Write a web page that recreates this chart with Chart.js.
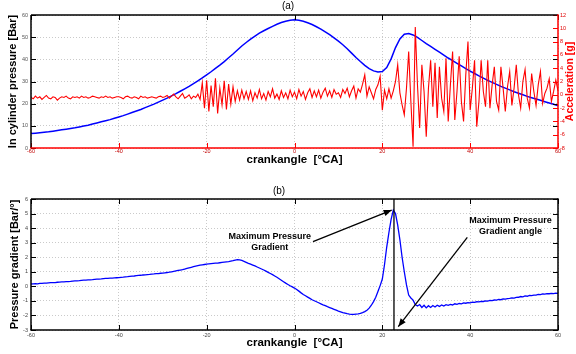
<!DOCTYPE html>
<html><head><meta charset="utf-8">
<script src="https://cdn.jsdelivr.net/npm/chart.js@4/dist/chart.umd.min.js"></script>
<style>
html,body{margin:0;padding:0;background:#fff;}
#wrap{position:relative;width:576px;height:354px;background:#fff;}
canvas{display:block;}
</style></head><body>
<div id="wrap"><canvas id="c1" width="576" height="177"></canvas><canvas id="c2" width="576" height="177"></canvas></div>
<script>
// ---------- DATA ----------
const crankAngle = [
 -60,-59.5,-59,-58.5,-58,-57.5,-57,-56.5,-56,-55.5,-55,-54.5,-54,-53.5,-53,-52.5,-52,-51.5,-51,-50.5,
 -50,-49.5,-49,-48.5,-48,-47.5,-47,-46.5,-46,-45.5,-45,-44.5,-44,-43.5,-43,-42.5,-42,-41.5,-41,-40.5,
 -40,-39.5,-39,-38.5,-38,-37.5,-37,-36.5,-36,-35.5,-35,-34.5,-34,-33.5,-33,-32.5,-32,-31.5,-31,-30.5,
 -30,-29.5,-29,-28.5,-28,-27.5,-27,-26.5,-26,-25.5,-25,-24.5,-24,-23.5,-23,-22.5,-22,-21.5,-21,-20.5,
 -20,-19.5,-19,-18.5,-18,-17.5,-17,-16.5,-16,-15.5,-15,-14.5,-14,-13.5,-13,-12.5,-12,-11.5,-11,-10.5,
 -10,-9.5,-9,-8.5,-8,-7.5,-7,-6.5,-6,-5.5,-5,-4.5,-4,-3.5,-3,-2.5,-2,-1.5,-1,-0.5,
 0,0.5,1,1.5,2,2.5,3,3.5,4,4.5,5,5.5,6,6.5,7,7.5,8,8.5,9,9.5,
 10,10.5,11,11.5,12,12.5,13,13.5,14,14.5,15,15.5,16,16.5,17,17.5,18,18.5,19,19.5,
 20,20.5,21,21.5,22,22.5,23,23.5,24,24.5,25,25.5,26,26.5,27,27.5,28,28.5,29,29.5,
 30,30.5,31,31.5,32,32.5,33,33.5,34,34.5,35,35.5,36,36.5,37,37.5,38,38.5,39,39.5,
 40,40.5,41,41.5,42,42.5,43,43.5,44,44.5,45,45.5,46,46.5,47,47.5,48,48.5,49,49.5,
 50,50.5,51,51.5,52,52.5,53,53.5,54,54.5,55,55.5,56,56.5,57,57.5,58,58.5,59,59.5,
 60];

const crankAngleDeg = [
 -60,-59,-58,-57,-56,-55,-54,-53,-52,-51,
 -50,-49,-48,-47,-46,-45,-44,-43,-42,-41,
 -40,-39,-38,-37,-36,-35,-34,-33,-32,-31,
 -30,-29,-28,-27,-26,-25,-24,-23,-22,-21,
 -20,-19,-18,-17,-16,-15,-14,-13,-12,-11,
 -10,-9,-8,-7,-6,-5,-4,-3,-2,-1,
 0,1,2,3,4,5,6,7,8,9,
 10,11,12,13,14,15,16,17,18,19,
 20,21,22,23,24,25,26,27,28,29,
 30,31,32,33,34,35,36,37,38,39,
 40,41,42,43,44,45,46,47,48,49,
 50,51,52,53,54,55,56,57,58,59,
 60];

// In-cylinder pressure [Bar] (1 deg steps)
const cylinderPressure = [
 6.5,6.7,6.9,7.1,7.3,7.6,7.9,8.2,8.5,8.8,
 9.1,9.5,9.9,10.3,10.8,11.3,11.8,12.3,12.8,13.4,
 14.0,14.6,15.3,16.0,16.7,17.4,18.2,19.0,19.8,20.7,
 21.6,22.5,23.5,24.5,25.6,26.7,27.8,29.0,30.3,31.6,
 33.0,34.4,35.9,37.4,39.0,40.7,42.4,44.2,46.0,47.6,
 49.1,50.5,51.8,52.9,53.9,54.9,55.8,56.6,57.2,57.6,
 57.8,57.6,57.2,56.5,55.7,54.7,53.6,52.4,51.1,49.7,
 48.2,46.6,44.8,42.8,40.8,39.0,37.3,35.8,34.8,34.3,
 34.5,36.3,40.2,45.3,49.2,51.3,51.6,51.0,49.9,48.5,
 47.1,45.8,44.5,43.2,41.9,40.6,39.4,38.2,37.0,35.8,
 34.7,33.6,32.5,31.5,30.5,29.6,28.7,27.8,27.0,26.2,
 25.4,24.7,24.0,23.3,22.7,22.1,21.5,20.9,20.3,19.7,
 19.1];

// Acceleration [g] (0.5 deg steps)
const acceleration = [
 -0.4,-0.6,-0.2,-0.5,-0.3,-0.7,-0.4,-0.1,-0.5,-0.6,-0.3,-0.4,-0.8,-0.5,-0.3,-0.4,-0.2,-0.5,-0.6,-0.3,
 -0.4,-0.3,-0.5,-0.2,-0.4,-0.3,-0.5,-0.4,-0.2,-0.3,-0.4,-0.5,-0.3,-0.4,-0.2,-0.4,-0.3,-0.5,-0.4,-0.3,
 -0.3,-0.4,-0.6,-0.3,-0.2,-0.4,-0.5,-0.3,-0.4,-0.6,-0.2,-0.4,-0.3,-0.5,-0.4,-0.3,-0.4,-0.5,-0.3,-0.2,
 -0.4,-0.3,-0.1,-0.5,-0.2,0.1,-0.3,-0.6,-0.2,0.2,-0.5,-0.3,0.0,-0.6,-0.2,-0.4,0.1,-0.7,1.8,-2.0,
 2.2,-2.5,1.4,-1.8,2.5,-2.8,1.0,-1.5,2.1,-2.2,1.6,-1.4,1.2,-1.0,0.6,-0.8,0.7,-0.6,0.5,-0.7,
 0.6,-0.9,0.3,-0.5,0.8,-0.6,0.2,-0.8,0.5,-0.3,0.9,-0.5,0.1,-0.7,0.6,-0.4,0.3,-0.6,0.7,-0.3,
 0.4,-0.6,0.8,-0.2,0.5,-0.7,0.3,0.9,-0.4,0.6,-0.3,0.7,-0.5,0.4,1.0,-0.2,0.6,-0.4,0.8,0.1,
 0.3,-0.4,0.8,0.2,1.0,-0.3,0.6,1.3,-0.5,0.9,0.4,1.6,3.0,-0.2,1.2,0.3,-0.6,0.8,1.5,2.8,
 -2.3,0.7,-0.6,0.9,-0.5,0.6,2.0,4.5,0.3,-1.5,-3.0,1.0,6.5,-1.0,-7.8,10.2,1.5,-5.0,4.5,0.5,
 -6.3,1.0,5.2,-1.8,4.8,-3.5,4.2,-0.5,-2.5,5.5,-4.0,1.5,6.5,-3.8,0.5,5.8,-1.0,-4.0,3.0,8.0,
 -2.3,1.0,5.2,-4.8,-1.0,5.2,0.5,-1.8,5.2,-2.0,1.5,4.2,-1.0,-2.3,4.2,1.0,-2.5,1.2,3.5,-1.6,
 1.0,4.5,0.0,-2.0,2.0,3.8,-0.5,-2.0,3.2,0.5,-1.6,1.5,3.5,-1.3,0.2,1.0,2.4,-1.0,0.5,2.2,
 0.6];

// Pressure gradient [Bar/deg] (0.5 deg steps)
const pressureGradient = [
 0.16,0.17,0.18,0.17,0.2,0.21,0.22,0.22,0.24,0.25,0.25,0.26,0.28,0.29,0.3,0.31,0.32,0.33,0.34,0.36,
 0.37,0.38,0.39,0.41,0.42,0.43,0.44,0.45,0.46,0.48,0.49,0.5,0.51,0.53,0.54,0.55,0.56,0.57,0.58,0.59,
 0.6,0.62,0.63,0.65,0.66,0.68,0.7,0.71,0.73,0.75,0.76,0.78,0.79,0.81,0.82,0.84,0.85,0.87,0.88,0.9,
 0.91,0.93,0.95,0.97,1.0,1.03,1.06,1.09,1.12,1.15,1.19,1.23,1.27,1.31,1.35,1.39,1.42,1.45,1.48,1.5,
 1.52,1.54,1.56,1.58,1.59,1.6,1.62,1.64,1.66,1.68,1.7,1.73,1.76,1.8,1.84,1.82,1.78,1.72,1.65,1.58,
 1.52,1.46,1.4,1.33,1.26,1.19,1.12,1.04,0.96,0.88,0.8,0.71,0.62,0.52,0.42,0.32,0.22,0.13,0.04,-0.04,
 -0.12,-0.22,-0.33,-0.45,-0.56,-0.65,-0.74,-0.83,-0.92,-0.99,-1.06,-1.13,-1.2,-1.27,-1.33,-1.4,-1.46,-1.52,-1.58,-1.64,
 -1.7,-1.75,-1.8,-1.84,-1.88,-1.91,-1.93,-1.93,-1.91,-1.89,-1.86,-1.81,-1.74,-1.64,-1.5,-1.3,-1.05,-0.75,-0.35,0.05,
 0.5,1.5,2.7,3.7,4.6,5.24,5.0,4.2,3.2,2.0,1.0,0.1,-0.6,-0.8,-0.95,-1.25,-1.35,-1.25,-1.45,-1.3,
 -1.48,-1.33,-1.45,-1.32,-1.42,-1.3,-1.38,-1.28,-1.35,-1.26,-1.3,-1.24,-1.28,-1.2,-1.24,-1.18,-1.2,-1.14,-1.16,-1.12,
 -1.13,-1.09,-1.1,-1.06,-1.07,-1.03,-1.04,-1.0,-1.01,-0.97,-0.98,-0.94,-0.95,-0.9,-0.92,-0.86,-0.88,-0.84,-0.83,-0.8,
 -0.81,-0.76,-0.75,-0.7,-0.72,-0.66,-0.68,-0.62,-0.64,-0.6,-0.6,-0.56,-0.57,-0.52,-0.54,-0.5,-0.51,-0.48,-0.5,-0.47,
 -0.48];

const xTickValues = [-60,-40,-20,0,20,40,60];
const pressureTicks = [0,10,20,30,40,50,60];
const accelTicks = [-8,-6,-4,-2,0,2,4,6,8,10,12];
const gradientTicks = [-3,-2,-1,0,1,2,3,4,5,6];

// annotation anchors (data units: crank angle, pressure gradient)
const maxGradientAngle = 22.65;
const labelMaxGrad = {lines:['Maximum Pressure','Gradient'], x:-5.65, y:[3.41,2.68]};
const labelMaxGradAngle = {lines:['Maximum Pressure','Gradient angle'], x:49.2, y:[4.51,3.75]};
const arrowMaxGrad = {from:[4.21,3.07], to:[22.13,5.24]};
const arrowMaxGradAngle = {from:[39.35,3.37], to:[23.63,-2.77]};

// ---------- CHARTS ----------
const FF = '"Liberation Sans", Arial, Helvetica, sans-serif';
const tickFont = {family: FF, size: 5.5};

function pts(xs, ys){ return xs.map((x,i)=>({x:x, y:ys[i]})); }
function line(ctx,x1,y1,x2,y2){ ctx.beginPath(); ctx.moveTo(x1,y1); ctx.lineTo(x2,y2); ctx.stroke(); }

function framePlugin(spec){
  return {
    id: 'frame',
    afterDatasetsDraw(chart){
      const {ctx, chartArea:a, scales} = chart;
      const L = 5;
      ctx.save();
      ctx.lineWidth = 1;
      scales.x.ticks.forEach(t=>{
        const px = Math.round(scales.x.getPixelForValue(t.value))+0.5;
        ctx.strokeStyle = spec.top; line(ctx,px,a.top,px,a.top+L);
        ctx.strokeStyle = spec.bottom; line(ctx,px,a.bottom,px,a.bottom-L);
      });
      scales.y.ticks.forEach(t=>{
        const py = Math.round(scales.y.getPixelForValue(t.value))+0.5;
        ctx.strokeStyle = '#000';
        line(ctx,a.left,py,a.left+L,py);
        line(ctx,a.right,py,a.right-L,py);
      });
      if (scales.y1){
        scales.y1.ticks.forEach(t=>{
          const py = Math.round(scales.y1.getPixelForValue(t.value))+0.5;
          ctx.strokeStyle = '#ff0000';
          line(ctx,a.right,py,a.right-L,py);
        });
      }
      ctx.lineWidth = 1.5;
      ctx.strokeStyle = spec.top; line(ctx,a.left,a.top,a.right,a.top);
      ctx.strokeStyle = spec.left; line(ctx,a.left,a.top,a.left,a.bottom);
      ctx.strokeStyle = spec.bottom; line(ctx,a.left-0.7,a.bottom,a.right+0.7,a.bottom);
      ctx.strokeStyle = spec.right; line(ctx,a.right,a.top-0.7,a.right,a.bottom);
      if (spec.rightTitle){
        ctx.save();
        ctx.translate(chart.width-5.5, (a.top+a.bottom)/2);
        ctx.rotate(-Math.PI/2);
        ctx.fillStyle = '#ff0000';
        ctx.font = 'bold 10.5px '+FF;
        ctx.textAlign = 'center'; ctx.textBaseline = 'middle';
        ctx.fillText(spec.rightTitle, 0, 0);
        ctx.restore();
      }
      ctx.restore();
    }
  };
}

function arrow(ctx, x0,y0,x1,y1){
  line(ctx,x0,y0,x1,y1);
  const ang = Math.atan2(y1-y0, x1-x0), h=8, w=3.2;
  ctx.beginPath();
  ctx.moveTo(x1,y1);
  ctx.lineTo(x1-h*Math.cos(ang)+w*Math.sin(ang), y1-h*Math.sin(ang)-w*Math.cos(ang));
  ctx.lineTo(x1-h*Math.cos(ang)-w*Math.sin(ang), y1-h*Math.sin(ang)+w*Math.cos(ang));
  ctx.closePath(); ctx.fill();
}

const annotPlugin = {
  id:'annot',
  afterDatasetsDraw(chart){
    const {ctx, chartArea:a, scales:{x,y}} = chart;
    ctx.save();
    ctx.strokeStyle='#000'; ctx.fillStyle='#000'; ctx.lineWidth=1.3;
    const vx = x.getPixelForValue(maxGradientAngle);
    line(ctx,vx,a.top,vx,a.bottom);
    [arrowMaxGrad, arrowMaxGradAngle].forEach(ar=>{
      arrow(ctx, x.getPixelForValue(ar.from[0]), y.getPixelForValue(ar.from[1]),
                 x.getPixelForValue(ar.to[0]), y.getPixelForValue(ar.to[1]));
    });
    ctx.font = 'bold 9px '+FF;
    ctx.textAlign='center'; ctx.textBaseline='middle';
    [labelMaxGrad, labelMaxGradAngle].forEach(lb=>{
      lb.lines.forEach((s,i)=> ctx.fillText(s, x.getPixelForValue(lb.x), y.getPixelForValue(lb.y[i])));
    });
    ctx.restore();
  }
};

const gridOpts = {color:'#bcbcbc', lineWidth:0.8, drawTicks:false};
const borderOpts = {display:false, dash:[1,2]};

new Chart(document.getElementById('c1'), {
  type:'line',
  data:{datasets:[
    {label:'Acceleration', data:pts(crankAngle, acceleration), yAxisID:'y1', borderColor:'#ff0000', borderWidth:1.1, pointRadius:0, tension:0, fill:false},
    {label:'In cylinder pressure', data:pts(crankAngleDeg, cylinderPressure), yAxisID:'y', borderColor:'#0000ff', borderWidth:1.5, pointRadius:0, tension:0, fill:false}
  ]},
  options:{
    responsive:false, animation:false, devicePixelRatio:1,
    layout:{padding:0},
    plugins:{legend:{display:false}, tooltip:{enabled:false},
      title:{display:true, text:'(a)', color:'#000', font:{family:FF, size:10, weight:'normal', lineHeight:1.2}, padding:{top:0.7,bottom:2.3}}},
    scales:{
      x:{type:'linear', min:-60, max:60,
         afterBuildTicks(s){ s.ticks = xTickValues.map(v=>({value:v})); },
         afterFit(s){ s.height = 29; },
         ticks:{font:tickFont, color:'#c00000', padding:0, maxRotation:0, autoSkip:false},
         grid:gridOpts, border:borderOpts,
         title:{display:true, text:'crankangle  [°CA]', color:'#000', font:{family:FF, size:11.5, weight:'bold', lineHeight:1}, padding:{top:0,bottom:11.3}}},
      y:{position:'left', min:0, max:60,
         afterBuildTicks(s){ s.ticks = pressureTicks.map(v=>({value:v})); },
         afterFit(s){ s.width = 31; },
         ticks:{font:tickFont, color:'#555', padding:3},
         grid:gridOpts, border:borderOpts,
         title:{display:true, text:'In cylinder pressure [Bar]', color:'#000', font:{family:FF, size:11, weight:'bold', lineHeight:1}, padding:{top:7,bottom:0}}},
      y1:{position:'right', min:-8, max:12,
         afterBuildTicks(s){ s.ticks = accelTicks.map(v=>({value:v})); },
         afterFit(s){ s.width = 18; },
         ticks:{font:tickFont, color:'#e00000', padding:2},
         grid:{drawOnChartArea:false, drawTicks:false}, border:{display:false}}
    }
  },
  plugins:[framePlugin({top:'#000', left:'#000', bottom:'#ff0000', right:'#ff0000', rightTitle:'Acceleration [g]'})]
});

new Chart(document.getElementById('c2'), {
  type:'line',
  data:{datasets:[
    {label:'Pressure gradient', data:pts(crankAngle, pressureGradient), borderColor:'#0000ff', borderWidth:1.3, pointRadius:0, tension:0, fill:false}
  ]},
  options:{
    responsive:false, animation:false, devicePixelRatio:1,
    layout:{padding:{left:0, right:18, top:0, bottom:0}},
    plugins:{legend:{display:false}, tooltip:{enabled:false},
      title:{display:true, text:'(b)', color:'#000', font:{family:FF, size:10, weight:'normal', lineHeight:1.2}, padding:{top:8.7,bottom:1.3}}},
    scales:{
      x:{type:'linear', min:-60, max:60,
         afterBuildTicks(s){ s.ticks = xTickValues.map(v=>({value:v})); },
         afterFit(s){ s.height = 24; },
         ticks:{font:tickFont, color:'#444', padding:1.7, maxRotation:0, autoSkip:false},
         grid:gridOpts, border:borderOpts,
         title:{display:true, text:'crankangle  [°CA]', color:'#000', font:{family:FF, size:11.5, weight:'bold', lineHeight:1}, padding:{top:0,bottom:5.3}}},
      y:{position:'left', min:-3, max:6,
         afterBuildTicks(s){ s.ticks = gradientTicks.map(v=>({value:v})); },
         afterFit(s){ s.width = 31; },
         ticks:{font:tickFont, color:'#444', padding:3},
         grid:gridOpts, border:borderOpts,
         title:{display:true, text:'Pressure gradient [Bar/°]', color:'#000', font:{family:FF, size:11, weight:'bold', lineHeight:1}, padding:{top:9.5,bottom:0}}}
    }
  },
  plugins:[framePlugin({top:'#000', left:'#000', bottom:'#000', right:'#000'}), annotPlugin]
});
</script>
</body></html>
